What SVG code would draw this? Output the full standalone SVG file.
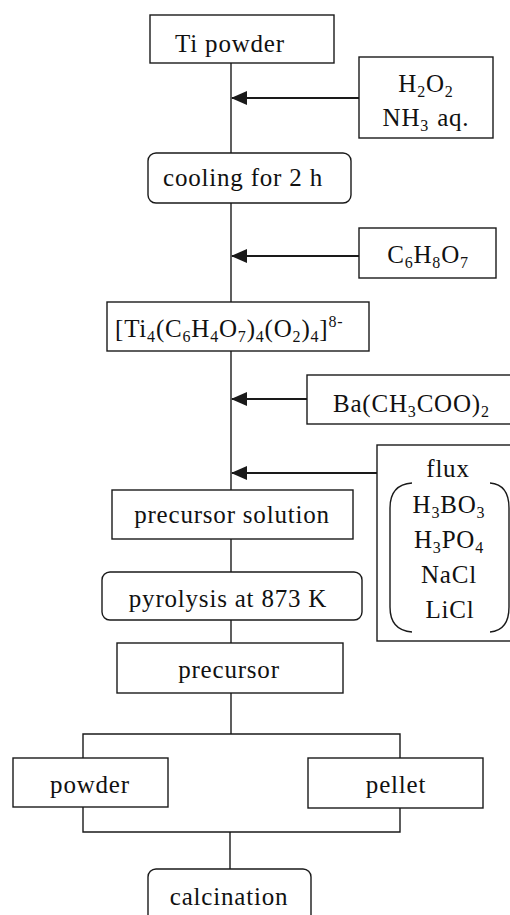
<svg xmlns="http://www.w3.org/2000/svg" width="510" height="915" viewBox="0 0 510 915">
<style>
.box{fill:#fff;stroke:#1a1a1a;stroke-width:1.4}
.ln{fill:none;stroke:#1a1a1a;stroke-width:1.4}
.ar{fill:none;stroke:#1a1a1a;stroke-width:2}
text{font-family:"Liberation Serif","Times New Roman",serif;font-size:25px;fill:#111;letter-spacing:0.8px}
.c{text-anchor:middle}
.s{font-size:16px}
</style>
<defs>
<marker id="ah" viewBox="0 0 16 14" refX="15" refY="7" markerWidth="16" markerHeight="14" markerUnits="userSpaceOnUse" orient="auto">
<path d="M0,0 L16,7 L0,14 Z" fill="#1a1a1a"/>
</marker>
</defs>
<rect width="510" height="915" fill="#fff"/>
<g id="connectors">
<line class="ln" x1="231" y1="63" x2="231" y2="153"/>
<line class="ln" x1="231" y1="203" x2="231" y2="302"/>
<line class="ln" x1="231" y1="351" x2="231" y2="490"/>
<line class="ln" x1="231" y1="539" x2="231" y2="572"/>
<line class="ln" x1="231" y1="620" x2="231" y2="643"/>
<line class="ln" x1="231" y1="693" x2="231" y2="734"/>
<polyline class="ln" points="83,758 83,734 400,734 400,758"/>
<polyline class="ln" points="83,807 83,832 400,832 400,808"/>
<line class="ln" x1="230" y1="832" x2="230" y2="869"/>
<line class="ar" x1="359" y1="98" x2="232" y2="98" marker-end="url(#ah)"/>
<line class="ar" x1="359" y1="256" x2="232" y2="256" marker-end="url(#ah)"/>
<line class="ar" x1="307" y1="399" x2="232" y2="399" marker-end="url(#ah)"/>
<line class="ar" x1="377" y1="473" x2="232" y2="473" marker-end="url(#ah)"/>
</g>
<g id="ti-powder">
<rect class="box" x="150" y="15" width="184" height="48"/>
<text class="c" x="230" y="52">Ti powder</text>
</g>
<g id="h2o2">
<rect class="box" x="359" y="57" width="134" height="81"/>
<text class="c" x="426" y="92">H<tspan class="s" dy="5">2</tspan><tspan dy="-5">O</tspan><tspan class="s" dy="5">2</tspan></text>
<text class="c" x="426" y="126">NH<tspan class="s" dy="5">3</tspan><tspan dy="-5" dx="8">aq.</tspan></text>
</g>
<g id="cooling">
<rect class="box" x="148" y="153" width="203" height="50" rx="8"/>
<text class="c" x="243" y="186">cooling for 2 h</text>
</g>
<g id="citric">
<rect class="box" x="359" y="228" width="137" height="50"/>
<text class="c" x="428" y="263">C<tspan class="s" dy="5">6</tspan><tspan dy="-5">H</tspan><tspan class="s" dy="5">8</tspan><tspan dy="-5">O</tspan><tspan class="s" dy="5">7</tspan></text>
</g>
<g id="complex">
<rect class="box" x="107" y="302" width="262" height="49"/>
<text x="115" y="337">[Ti<tspan class="s" dy="5">4</tspan><tspan dy="-5">(C</tspan><tspan class="s" dy="5">6</tspan><tspan dy="-5">H</tspan><tspan class="s" dy="5">4</tspan><tspan dy="-5">O</tspan><tspan class="s" dy="5">7</tspan><tspan dy="-5">)</tspan><tspan class="s" dy="5">4</tspan><tspan dy="-5">(O</tspan><tspan class="s" dy="5">2</tspan><tspan dy="-5">)</tspan><tspan class="s" dy="5">4</tspan><tspan dy="-5">]</tspan><tspan class="s" dy="-10">8-</tspan></text>
</g>
<g id="ba-acetate">
<rect class="box" x="307" y="375" width="210" height="49"/>
<text x="333" y="412">Ba(CH<tspan class="s" dy="5">3</tspan><tspan dy="-5">COO)</tspan><tspan class="s" dy="5">2</tspan></text>
</g>
<g id="flux">
<rect class="box" x="377" y="445" width="140" height="196"/>
<text class="c" x="448" y="477">flux</text>
<text class="c" x="449" y="513">H<tspan class="s" dy="5">3</tspan><tspan dy="-5">BO</tspan><tspan class="s" dy="5">3</tspan></text>
<text class="c" x="449" y="548">H<tspan class="s" dy="5">3</tspan><tspan dy="-5">PO</tspan><tspan class="s" dy="5">4</tspan></text>
<text class="c" x="449" y="583">NaCl</text>
<text class="c" x="450" y="618">LiCl</text>
<path class="ln" d="M412,483 C398,484 390,492 390,508 L390,607 C390,623 398,631 412,632"/>
<path class="ln" d="M490,483 C502,484 509,492 509,508 L509,607 C509,623 502,631 490,632"/>
</g>
<g id="precursor-solution">
<rect class="box" x="112" y="490" width="241" height="49"/>
<text class="c" x="232" y="523">precursor solution</text>
</g>
<g id="pyrolysis">
<rect class="box" x="102" y="572" width="260" height="48" rx="8"/>
<text class="c" x="228" y="607">pyrolysis at 873 K</text>
</g>
<g id="precursor">
<rect class="box" x="117" y="643" width="226" height="50"/>
<text class="c" x="229" y="678">precursor</text>
</g>
<g id="powder">
<rect class="box" x="13" y="758" width="155" height="49"/>
<text class="c" x="90" y="793">powder</text>
</g>
<g id="pellet">
<rect class="box" x="308" y="758" width="175" height="50"/>
<text class="c" x="396" y="793">pellet</text>
</g>
<g id="calcination">
<rect class="box" x="148" y="869" width="163" height="60" rx="8"/>
<text class="c" x="229" y="905">calcination</text>
</g>
</svg>
